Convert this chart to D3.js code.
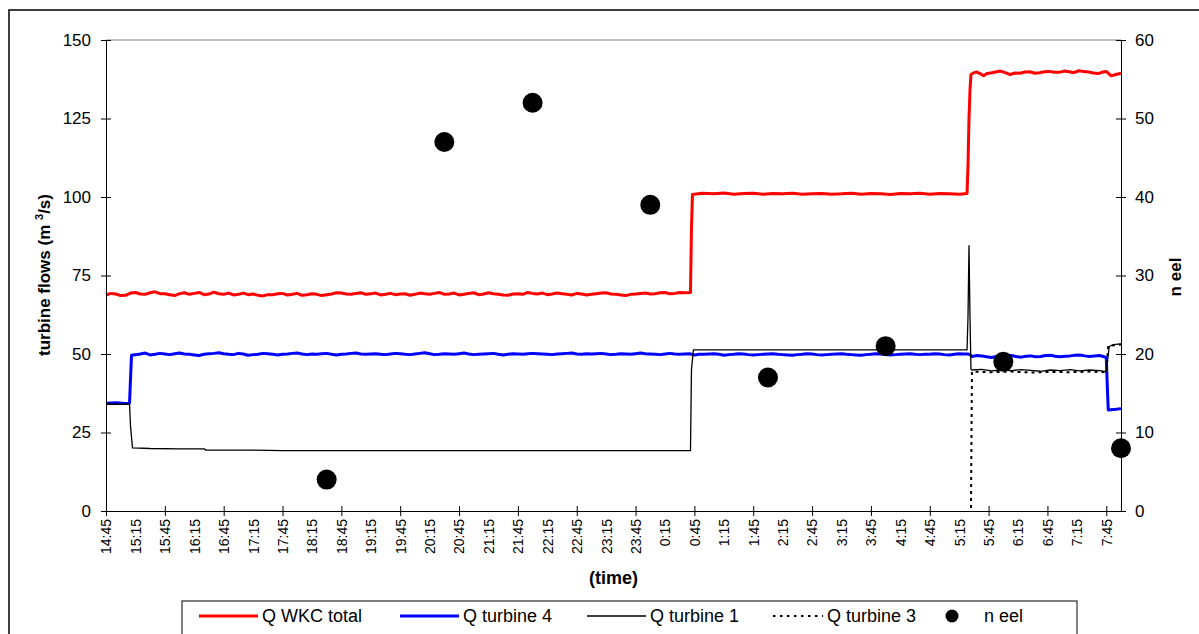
<!DOCTYPE html>
<html>
<head>
<meta charset="utf-8">
<script src="https://cdn.jsdelivr.net/npm/d3@7"></script>
<style>
  html, body { margin: 0; padding: 0; background: #fff; }
  svg { display: block; font-family: "Liberation Sans", Arial, sans-serif; }
</style>
</head>
<body>
<svg id="chart" width="1199" height="634"></svg>
<script>
// Turbine flows (left axis, m3/s) and eel counts (right axis), 14:45 - 8:00

const timeLabels = ["14:45","15:15","15:45","16:15","16:45","17:15","17:45","18:15","18:45","19:15",
  "19:45","20:15","20:45","21:15","21:45","22:15","22:45","23:15","23:45","0:15","0:45","1:15",
  "1:45","2:15","2:45","3:15","3:45","4:15","4:45","5:15","5:45","6:15","6:45","7:15","7:45"];
const flowTicks = [0, 25, 50, 75, 100, 125, 150];
const eelTicks = [0, 10, 20, 30, 40, 50, 60];

const qTotal = [
  ["14:45",68.8],["14:50",69.3],["14:55",69.1],["15:00",68.6],["15:05",68.7],["15:10",69.4],["15:15",69.6],
  ["15:20",69.1],["15:25",69.0],["15:30",69.5],["15:35",69.8],["15:40",69.2],["15:45",69.2],["15:50",68.9],
  ["15:55",68.6],["16:00",69.2],["16:05",69.5],["16:10",69.0],["16:15",69.3],["16:20",69.6],["16:25",68.9],
  ["16:30",69.1],["16:35",69.7],["16:40",69.2],["16:45",69.0],["16:50",69.4],["16:55",68.8],["17:00",69.0],
  ["17:05",69.4],["17:10",68.9],["17:15",69.1],["17:20",68.7],["17:25",68.5],["17:30",68.9],["17:35",68.9],
  ["17:40",69.2],["17:45",69.3],["17:50",68.8],["17:55",69.0],["18:00",69.3],["18:05",68.7],["18:10",68.9],
  ["18:15",69.2],["18:20",69.0],["18:25",68.6],["18:30",68.9],["18:35",69.1],["18:40",69.5],["18:45",69.4],
  ["18:50",69.1],["18:55",69.0],["19:00",69.3],["19:05",69.5],["19:10",69.0],["19:15",69.2],["19:20",69.4],
  ["19:25",68.8],["19:30",69.0],["19:35",69.3],["19:40",68.9],["19:45",69.1],["19:50",69.2],["19:55",68.7],
  ["20:00",69.0],["20:05",69.4],["20:10",69.2],["20:15",69.0],["20:20",69.3],["20:25",69.6],["20:30",69.0],
  ["20:35",69.1],["20:40",69.4],["20:45",68.8],["20:50",69.0],["20:55",69.3],["21:00",69.5],["21:05",68.9],
  ["21:10",69.1],["21:15",69.5],["21:20",69.2],["21:25",69.0],["21:30",68.8],["21:35",68.7],["21:40",69.1],
  ["21:45",69.2],["21:50",69.0],["21:55",69.6],["22:00",69.3],["22:05",69.1],["22:10",69.4],["22:15",68.9],
  ["22:20",69.1],["22:25",69.4],["22:30",69.2],["22:35",69.0],["22:40",68.8],["22:45",69.3],["22:50",69.1],
  ["22:55",68.8],["23:00",69.0],["23:05",69.2],["23:10",69.4],["23:15",69.5],["23:20",69.1],["23:25",69.0],
  ["23:30",68.8],["23:35",68.6],["23:40",69.0],["23:45",69.1],["23:50",69.3],["23:55",69.4],["0:00",69.1],
  ["0:05",69.2],["0:10",69.5],["0:15",69.6],["0:20",69.2],["0:25",69.3],["0:30",69.6],["0:35",69.5],
  ["0:41",69.6],["0:42",90.0],["0:43",100.8],
  ["0:53",101.2],["1:05",101.0],["1:15",101.3],["1:25",100.9],["1:35",101.1],["1:45",101.2],["1:55",100.9],
  ["2:05",101.1],["2:15",101.0],["2:25",101.2],["2:35",100.9],["2:45",101.0],["2:55",101.1],["3:05",100.9],
  ["3:15",101.0],["3:25",101.2],["3:35",100.9],["3:45",101.1],["3:55",101.0],["4:05",100.8],["4:15",101.1],
  ["4:25",101.0],["4:35",101.2],["4:45",100.9],["4:55",101.1],["5:05",101.0],["5:15",100.9],["5:23",101.1],
  ["5:24",110.0],["5:25",125.0],["5:26",134.0],["5:27",139.0],["5:30",139.6],["5:33",139.8],["5:37",139.2],
  ["5:40",138.6],["5:43",139.3],["5:47",139.5],["5:52",139.8],["5:57",140.1],["6:02",139.6],["6:07",139.0],
  ["6:12",139.5],["6:17",139.4],["6:22",139.8],["6:27",139.9],["6:32",139.4],["6:37",139.6],["6:42",139.9],
  ["6:47",140.0],["6:52",139.7],["6:57",139.7],["7:02",140.1],["7:07",139.9],["7:12",139.6],["7:17",140.2],
  ["7:22",140.0],["7:27",139.8],["7:32",139.5],["7:37",139.3],["7:41",139.8],["7:45",140.0],["7:50",138.6],
  ["7:55",139.0],["8:00",139.4]
];

const qTurbine4 = [
  ["14:45",34.3],["14:55",34.5],["15:05",34.2],["15:09",34.4],["15:10",42.0],["15:11",49.6],["15:20",50.0],
  ["15:25",50.3],["15:30",49.7],["15:35",49.9],["15:40",50.2],["15:45",50.0],["15:50",49.8],["15:55",50.1],
  ["16:00",50.3],["16:05",50.0],["16:10",49.9],["16:15",49.7],["16:20",49.5],["16:25",49.9],["16:30",50.1],
  ["16:35",50.2],["16:40",50.4],["16:45",50.1],["16:50",49.9],["16:55",49.8],["17:00",50.2],["17:05",50.0],
  ["17:10",49.6],["17:15",49.8],["17:20",49.9],["17:25",50.2],["17:30",50.1],["17:35",49.9],["17:40",49.7],
  ["17:45",49.9],["17:50",50.0],["17:55",50.2],["18:00",50.3],["18:05",50.0],["18:10",49.8],["18:15",50.0],
  ["18:20",49.9],["18:25",50.1],["18:30",50.2],["18:35",49.9],["18:40",49.7],["18:45",49.9],["18:50",50.0],
  ["18:55",50.2],["19:00",50.3],["19:05",50.0],["19:10",49.9],["19:15",50.0],["19:20",50.1],["19:25",49.9],
  ["19:30",49.8],["19:35",50.0],["19:40",50.2],["19:45",50.1],["19:50",49.9],["19:55",49.8],["20:00",50.0],
  ["20:05",50.2],["20:10",50.4],["20:15",50.1],["20:20",49.8],["20:25",49.9],["20:30",50.1],["20:35",50.0],
  ["20:40",49.9],["20:45",50.1],["20:50",50.3],["20:55",50.0],["21:00",49.8],["21:05",49.9],["21:10",50.0],
  ["21:15",50.1],["21:20",50.2],["21:25",49.9],["21:30",49.7],["21:35",49.9],["21:40",50.1],["21:45",50.0],
  ["21:50",49.9],["21:55",50.1],["22:00",50.2],["22:05",50.1],["22:10",50.0],["22:15",49.9],["22:20",49.8],
  ["22:25",50.0],["22:30",50.1],["22:35",50.2],["22:40",50.3],["22:45",50.0],["22:50",49.9],["22:55",50.1],
  ["23:00",50.0],["23:05",50.1],["23:10",50.2],["23:15",50.0],["23:20",49.8],["23:25",49.9],["23:30",50.1],
  ["23:35",50.0],["23:40",49.9],["23:45",50.1],["23:50",50.3],["23:55",50.1],["0:00",50.0],["0:05",49.9],
  ["0:10",49.8],["0:15",50.0],["0:20",50.2],["0:25",50.0],["0:30",49.9],["0:35",50.0],["0:40",50.1],
  ["0:45",49.7],["0:50",49.9],["0:55",49.9],["1:00",50.0],["1:05",50.1],["1:10",49.9],["1:15",49.6],
  ["1:20",49.8],["1:25",49.9],["1:30",50.1],["1:35",50.0],["1:40",49.8],["1:45",49.7],["1:50",49.8],
  ["1:55",49.9],["2:00",50.0],["2:05",50.1],["2:10",49.9],["2:15",49.8],["2:20",49.7],["2:25",49.6],
  ["2:30",49.8],["2:35",49.9],["2:40",50.1],["2:45",50.0],["2:50",49.8],["2:55",49.7],["3:00",49.8],
  ["3:05",49.9],["3:10",50.0],["3:15",50.1],["3:20",49.9],["3:25",49.8],["3:30",49.7],["3:35",49.6],
  ["3:40",49.8],["3:45",49.9],["3:50",50.1],["3:55",50.0],["4:00",49.8],["4:05",49.7],["4:10",49.8],
  ["4:15",49.9],["4:20",50.0],["4:25",50.1],["4:30",49.9],["4:35",49.8],["4:40",49.9],["4:45",49.9],
  ["4:50",50.1],["4:55",50.0],["5:00",49.8],["5:05",49.7],["5:10",49.9],["5:15",50.1],["5:20",50.0],
  ["5:24",50.0],["5:26",49.8],["5:28",49.2],["5:33",49.5],["5:38",49.4],["5:43",49.1],["5:48",48.9],
  ["5:53",49.2],["5:58",49.3],["6:03",49.6],["6:08",49.5],["6:13",49.2],["6:18",49.0],["6:23",49.3],
  ["6:28",49.4],["6:33",49.1],["6:38",49.2],["6:43",49.5],["6:48",49.6],["6:53",49.3],["6:58",49.1],
  ["7:03",49.3],["7:08",49.4],["7:13",49.6],["7:18",49.7],["7:23",49.4],["7:28",49.2],["7:33",49.4],
  ["7:38",49.5],["7:42",49.2],["7:45",48.9],["7:46",40.0],["7:47",32.2],["7:55",32.4],["8:00",32.6]
];

const qTurbine1 = [
  ["14:45",34.0],["15:09",34.0],["15:10",27.0],["15:12",20.1],["15:30",19.9],["16:00",19.8],["16:25",19.8],
  ["16:27",19.4],["17:15",19.4],["17:45",19.2],["18:30",19.2],["20:00",19.2],["22:00",19.2],["0:41",19.2],
  ["0:42",45.0],["0:44",51.3],["3:00",51.3],["5:23",51.3],["5:24",62.0],["5:25",84.5],["5:26",62.0],
  ["5:27",45.2],["5:28",44.9],["5:38",45.1],["5:48",44.6],["5:58",44.9],["6:08",44.7],["6:18",45.0],
  ["6:28",44.8],["6:38",44.5],["6:48",44.9],["6:58",44.7],["7:08",45.0],["7:18",44.6],["7:28",44.9],
  ["7:38",44.7],["7:45",44.4],["7:46",47.0],["7:48",52.4],["7:52",53.0],["8:00",53.2]
];

const qTurbine3 = [
  ["14:45",0],["5:27",0],["5:28",44.4],["5:48",44.2],["6:08",44.4],["6:28",44.1],["6:48",44.3],
  ["7:08",44.2],["7:28",44.4],["7:45",44.2],["7:47",52.6],["8:00",53.0]
];

const eelTimes = ["18:30","20:30","22:00","0:00","2:00","4:00","6:00","8:00"];
const eelCounts = [4, 47, 52, 39, 17, 21, 19, 8];

// times after midnight belong to the next day
function toDate(s) {
  const [h, m] = s.split(":").map(Number);
  return new Date(2000, 0, h >= 12 ? 1 : 2, h, m);
}

const svg = d3.select("#chart");
const plot = { l: 106, r: 1121, t: 40, b: 511 };

const x = d3.scaleTime().domain([toDate("14:45"), toDate("8:00")]).range([plot.l, plot.r]);
const yL = d3.scaleLinear().domain([0, 150]).range([plot.b, plot.t]);
const yR = d3.scaleLinear().domain([0, 60]).range([plot.b, plot.t]);

// outer chart frame
svg.append("rect").attr("x", 9).attr("y", 10).attr("width", 1240).attr("height", 700)
  .attr("fill", "none").attr("stroke", "#000").attr("stroke-width", 1.5);

// plot area top border
svg.append("line").attr("x1", plot.l).attr("x2", plot.r).attr("y1", plot.t).attr("y2", plot.t)
  .attr("stroke", "#808080").attr("stroke-width", 1);

// keep series lines above the x axis line
svg.append("clipPath").attr("id", "plotClip").append("rect")
  .attr("x", plot.l - 2).attr("y", 0).attr("width", plot.r - plot.l + 4).attr("height", plot.b - 1);

const line = d3.line().x(d => x(toDate(d[0]))).y(d => yL(d[1]));

const series = [
  { data: qTotal, color: "#ff0000", width: 3, dash: null },
  { data: qTurbine4, color: "#0000ff", width: 3, dash: null },
  { data: qTurbine1, color: "#000000", width: 1.3, dash: null },
  { data: qTurbine3, color: "#000000", width: 2, dash: "3,4" }
];
const lines = svg.append("g").attr("clip-path", "url(#plotClip)");
series.forEach(s => {
  lines.append("path").datum(s.data).attr("d", line)
    .attr("fill", "none").attr("stroke", s.color).attr("stroke-width", s.width)
    .attr("stroke-linejoin", "round")
    .attr("stroke-dasharray", s.dash);
});

// axes
const xAxis = svg.append("g").attr("transform", `translate(0,${plot.b})`)
  .call(d3.axisBottom(x).tickValues(timeLabels.map(toDate))
    .tickFormat(d3.timeFormat("%-H:%M")).tickSizeOuter(0).tickSizeInner(5));
xAxis.selectAll(".tick line")
  .attr("y1", (d, i) => i % 2 === 0 ? -5 : 0)
  .attr("y2", (d, i) => i % 2 === 0 ? 5 : 0);
xAxis.selectAll(".tick text")
  .attr("transform", "rotate(-90)").attr("x", -8).attr("y", 0).attr("dy", "0.35em")
  .style("text-anchor", "end").style("font-size", "14px").attr("fill", "#000");

const yAxisL = svg.append("g").attr("transform", `translate(${plot.l},0)`)
  .call(d3.axisLeft(yL).tickValues(flowTicks).tickSizeOuter(0).tickSizeInner(5));
yAxisL.selectAll(".tick line").attr("x1", 5);
yAxisL.selectAll(".tick text").attr("x", -15).style("font-size", "17px").attr("fill", "#000");

const yAxisR = svg.append("g").attr("transform", `translate(${plot.r},0)`)
  .call(d3.axisRight(yR).tickValues(eelTicks).tickSizeOuter(0).tickSizeInner(5));
yAxisR.selectAll(".tick line").attr("x1", -5);
yAxisR.selectAll(".tick text").attr("x", 14).style("font-size", "17px").attr("fill", "#000");

svg.selectAll(".domain").attr("stroke", "#000");
svg.selectAll(".tick line").attr("stroke", "#000");

// eel counts on the right axis
svg.append("g").selectAll("circle").data(eelCounts).join("circle")
  .attr("cx", (d, i) => x(toDate(eelTimes[i]))).attr("cy", d => yR(d))
  .attr("r", 10).attr("fill", "#000");

// axis titles
const tL = svg.append("text").attr("transform", "translate(50,275) rotate(-90)")
  .attr("text-anchor", "middle").style("font-size", "17px").style("font-weight", "bold");
tL.append("tspan").text("turbine flows (m ");
tL.append("tspan").text("3").style("font-size", "11px").attr("dy", -7);
tL.append("tspan").text("/s)").attr("dy", 7);

svg.append("text").attr("x", (plot.l + plot.r) / 2).attr("y", 584).attr("text-anchor", "middle")
  .style("font-size", "18px").style("font-weight", "bold").text("(time)");

svg.append("text").attr("transform", "translate(1181,277) rotate(-90)")
  .attr("text-anchor", "middle").style("font-size", "17px").style("font-weight", "bold").text("n eel");

// legend
const legendItems = [
  { label: "Q WKC total", color: "#ff0000", width: 3, dash: null, x: 199, len: 59 },
  { label: "Q turbine 4", color: "#0000ff", width: 3, dash: null, x: 400, len: 59 },
  { label: "Q turbine 1", color: "#000000", width: 1.3, dash: null, x: 587, len: 59 },
  { label: "Q turbine 3", color: "#000000", width: 2, dash: "2.5,4.5", x: 773, len: 50 },
  { label: "n eel", dot: true, x: 923, len: 59 }
];
svg.append("rect").attr("x", 182).attr("y", 601).attr("width", 895).attr("height", 60)
  .attr("fill", "#fff").attr("stroke", "#000").attr("stroke-width", 1);
const ly = 616;
const lg = svg.append("g").selectAll("g").data(legendItems).join("g");
lg.each(function (d) {
  const g = d3.select(this);
  if (d.dot) {
    g.append("circle").attr("cx", d.x + 29).attr("cy", ly).attr("r", 6.5).attr("fill", "#000");
  } else {
    g.append("line").attr("x1", d.x).attr("x2", d.x + d.len).attr("y1", ly).attr("y2", ly)
      .attr("stroke", d.color).attr("stroke-width", d.width).attr("stroke-dasharray", d.dash);
  }
  g.append("text").attr("x", d.dot ? d.x + 61 : d.x + d.len + 4).attr("y", ly).attr("dy", "0.35em")
    .style("font-size", "18px").text(d.label);
});
</script>
</body>
</html>
